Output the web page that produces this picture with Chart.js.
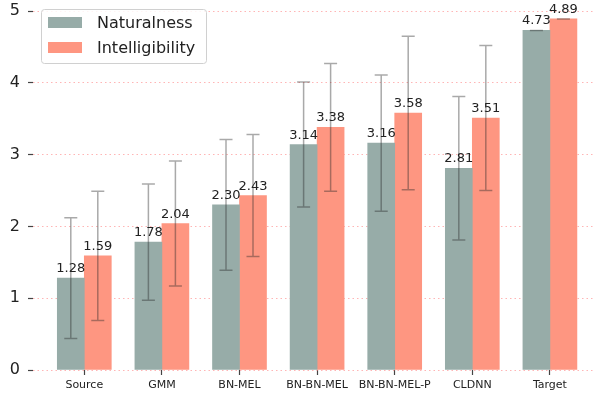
<!DOCTYPE html>
<html>
<head>
<meta charset="utf-8">
<script src="https://cdn.jsdelivr.net/npm/chart.js@4/dist/chart.umd.min.js"></script>
<style>
  html, body { margin: 0; padding: 0; background: #fff; overflow: hidden; }
  #wrap { width: 595px; height: 396px; }
</style>
</head>
<body>
<div id="wrap"><canvas id="chart" width="595" height="396"></canvas></div>
<script>
const categories = ['Source', 'GMM', 'BN-MEL', 'BN-BN-MEL', 'BN-BN-MEL-P', 'CLDNN', 'Target'];
const naturalness = [1.28, 1.78, 2.30, 3.14, 3.16, 2.81, 4.73];
const intelligibility = [1.59, 2.04, 2.43, 3.38, 3.58, 3.51, 4.89];
const naturalnessErr = [0.84, 0.81, 0.91, 0.87, 0.95, 1.00, 0.0];
const intelligibilityErr = [0.90, 0.87, 0.85, 0.89, 1.07, 1.01, 0.0];
const yTicks = [0, 1, 2, 3, 4, 5];

const natColor = '#97aca8';
const intColor = '#fe9681';
const errs = [naturalnessErr, intelligibilityErr];

// error bars, value labels and the in-plot legend
const extras = {
  id: 'extras',
  afterDatasetsDraw(chart) {
    const ctx = chart.ctx;
    const y = chart.scales.y;
    ctx.save();
    chart.data.datasets.forEach((ds, di) => {
      const meta = chart.getDatasetMeta(di);
      meta.data.forEach((bar, i) => {
        const v = ds.data[i].y;
        const e = errs[di][i];
        const top = y.getPixelForValue(v + e);
        const bot = y.getPixelForValue(v - e);
        ctx.strokeStyle = 'rgba(40,40,40,0.4)';
        ctx.lineWidth = 1.5;
        ctx.beginPath();
        ctx.moveTo(bar.x, top); ctx.lineTo(bar.x, bot);
        ctx.moveTo(bar.x - 6.5, top); ctx.lineTo(bar.x + 6.5, top);
        ctx.moveTo(bar.x - 6.5, bot); ctx.lineTo(bar.x + 6.5, bot);
        ctx.stroke();
      });
    });
    ctx.fillStyle = '#222';
    ctx.font = '13px "DejaVu Sans"';
    ctx.textAlign = 'center';
    ctx.textBaseline = 'alphabetic';
    chart.data.datasets.forEach((ds, di) => {
      chart.getDatasetMeta(di).data.forEach((bar, i) => {
        ctx.fillText(ds.data[i].y.toFixed(2), bar.x, bar.y - 6);
      });
    });
    // legend
    ctx.fillStyle = 'rgba(255,255,255,0.85)';
    ctx.strokeStyle = '#d0d0d0';
    ctx.lineWidth = 1;
    ctx.beginPath();
    ctx.roundRect(41.5, 9.5, 165, 54, 3);
    ctx.fill(); ctx.stroke();
    ctx.font = '16px "DejaVu Sans"';
    ctx.textAlign = 'left';
    chart.data.datasets.forEach((ds, di) => {
      const yy = 17 + di * 25;
      ctx.fillStyle = ds.backgroundColor;
      ctx.fillRect(48, yy, 34, 11);
      ctx.fillStyle = '#222';
      ctx.fillText(ds.label, 97, yy + 11);
    });
    ctx.restore();
  }
};

new Chart(document.getElementById('chart'), {
  type: 'bar',
  data: {
    datasets: [
      { label: 'Naturalness', data: naturalness.map((v, i) => ({ x: i, y: v })), backgroundColor: natColor },
      { label: 'Intelligibility', data: intelligibility.map((v, i) => ({ x: i, y: v })), backgroundColor: intColor }
    ]
  },
  options: {
    responsive: false,
    animation: false,
    barThickness: 27,
    layout: { padding: { top: 11, right: 0, left: 0, bottom: 0 } },
    plugins: { legend: { display: false }, tooltip: { enabled: false } },
    scales: {
      x: {
        type: 'linear',
        offset: false,
        min: -0.661,
        max: 6.581,
        afterBuildTicks: s => { s.ticks = categories.map((c, i) => ({ value: i })); },
        afterFit: s => { s.height = 26; s.paddingLeft = 0; s.paddingRight = 0; },
        ticks: {
          callback: v => categories[v],
          autoSkip: false, maxRotation: 0,
          font: { family: 'DejaVu Sans', size: 11 }, color: '#222', padding: 4
        },
        grid: { offset: false, drawOnChartArea: false, tickLength: 5, tickColor: '#444', tickWidth: 1.2 },
        border: { display: false }
      },
      y: {
        min: 0, max: 5,
        afterBuildTicks: s => { s.ticks = yTicks.map(v => ({ value: v })); },
        afterFit: s => { s.width = 33; s.paddingTop = 0; s.paddingBottom = 0; },
        ticks: { font: { family: 'DejaVu Sans', size: 16 }, color: '#222', padding: 8 },
        grid: { color: 'rgba(255,120,120,0.55)', lineWidth: 1, tickLength: 5, tickColor: '#444', tickWidth: 1.2, tickBorderDash: [] },
        border: { display: false, dash: [1.5, 3] }
      }
    }
  },
  plugins: [extras]
});
</script>
</body>
</html>
